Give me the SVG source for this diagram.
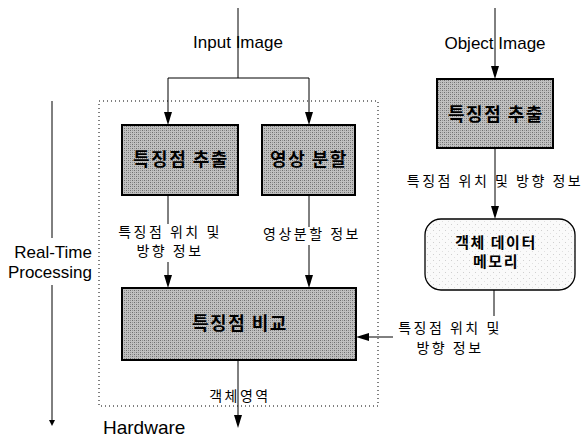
<svg xmlns="http://www.w3.org/2000/svg" width="587" height="439" viewBox="0 0 587 439">
<defs>
<pattern id="hatch" width="4" height="4" patternUnits="userSpaceOnUse">
<rect width="4" height="4" fill="#c0c0c0"/>
<rect x="0" y="0" width="1" height="1" fill="#6e6e6e"/>
<rect x="2" y="2" width="1" height="1" fill="#6e6e6e"/>
<rect x="2" y="0" width="1" height="1" fill="#929292"/>
<rect x="0" y="2" width="1" height="1" fill="#929292"/>
</pattern>
<pattern id="dots" width="6" height="6" patternUnits="userSpaceOnUse">
<rect width="6" height="6" fill="#fafafa"/>
<rect x="1" y="2" width="1" height="1" fill="#d0d0d0"/>
<rect x="4" y="5" width="1" height="1" fill="#e0e0e0"/>
</pattern>
</defs>
<style>
.box{fill:url(#hatch);stroke:#000;stroke-width:2}
.mem{fill:url(#dots);stroke:#000;stroke-width:1.3}
.ln{fill:none;stroke:#000;stroke-width:1}
.ah{fill:#000;stroke:none}
.en{font-family:"Liberation Sans",Arial,sans-serif;font-size:17px;fill:#000}
.kb{font-family:"Noto Sans CJK KR",sans-serif;font-size:18px;font-weight:bold;fill:#000;text-anchor:middle;letter-spacing:1.5px}
.kl{font-family:"Noto Sans CJK KR",sans-serif;font-size:14px;fill:#000;text-anchor:middle;letter-spacing:2.5px}
.km{font-family:"Noto Sans CJK KR",sans-serif;font-size:15px;font-weight:bold;fill:#000;text-anchor:middle;letter-spacing:1.5px}
</style>
<rect id="hardware-frame" x="99" y="101" width="279" height="305" fill="none" stroke="#000" stroke-width="1" stroke-dasharray="1,3"/>
<g id="connectors">
<line class="ln" x1="238" y1="8" x2="238" y2="78"/>
<polyline class="ln" points="168,120 168,78 309,78 309,120"/>
<path class="ah" d="M164,112 L172,112 L168,125 Z"/>
<path class="ah" d="M305,112 L313,112 L309,125 Z"/>
<line class="ln" x1="168" y1="195" x2="168" y2="224"/>
<line class="ln" x1="168" y1="262" x2="168" y2="283"/>
<path class="ah" d="M164,275 L172,275 L168,288 Z"/>
<line class="ln" x1="309" y1="195" x2="309" y2="227"/>
<line class="ln" x1="309" y1="245" x2="309" y2="283"/>
<path class="ah" d="M305,275 L313,275 L309,288 Z"/>
<line class="ln" x1="238" y1="360" x2="238" y2="423"/>
<path class="ah" d="M234,415 L242,415 L238,428 Z"/>
<line class="ln" x1="495" y1="8" x2="495" y2="74"/>
<path class="ah" d="M491,66 L499,66 L495,79 Z"/>
<line class="ln" x1="495" y1="148" x2="495" y2="214"/>
<path class="ah" d="M491,206 L499,206 L495,219 Z"/>
<line class="ln" x1="494" y1="290" x2="494" y2="316"/>
<line class="ln" x1="393" y1="337" x2="361" y2="337"/>
<path class="ah" d="M369,333 L369,341 L356,337 Z"/>
<line class="ln" x1="52" y1="101" x2="52" y2="238"/>
<line class="ln" x1="52" y1="285" x2="52" y2="422"/>
<path class="ah" d="M49,420 L55,420 L52,426 Z"/>
</g>
<g id="label-input"><text class="en" x="238" y="48" text-anchor="middle">Input Image</text></g>
<g id="label-object"><text class="en" x="495" y="49" text-anchor="middle">Object Image</text></g>
<g id="node-extract1">
<rect class="box" x="122" y="125" width="116" height="70"/>
<text class="kb" x="181" y="166">특징점 추출</text>
</g>
<g id="node-segment">
<rect class="box" x="262" y="125" width="93" height="70"/>
<text class="kb" x="309" y="166">영상 분할</text>
</g>
<g id="node-compare">
<rect class="box" x="122" y="288" width="234" height="72"/>
<text class="kb" x="240" y="330">특징점 비교</text>
</g>
<g id="node-extract2">
<rect class="box" x="437" y="79" width="116" height="69"/>
<text class="kb" x="496" y="121">특징점 추출</text>
</g>
<g id="node-memory">
<rect class="mem" x="425" y="219" width="150" height="71" rx="16" ry="16"/>
<text class="km" x="496" y="248">객체 데이터</text>
<text class="km" x="496" y="267">메모리</text>
</g>
<g id="labels">
<text class="kl" x="170" y="237">특징점 위치 및</text>
<text class="kl" x="170" y="256">방향 정보</text>
<text class="kl" x="312" y="239">영상분할 정보</text>
<text class="kl" x="495" y="186">특징점 위치 및 방향 정보</text>
<text class="kl" x="450" y="333">특징점 위치 및</text>
<text class="kl" x="450" y="353">방향 정보</text>
<text class="kl" x="240" y="401">객체영역</text>
<text class="en" x="92" y="258" text-anchor="end">Real-Time</text>
<text class="en" x="92" y="278" text-anchor="end">Processing</text>
<text class="en" x="103" y="434" style="font-size:19px">Hardware</text>
</g>
</svg>
